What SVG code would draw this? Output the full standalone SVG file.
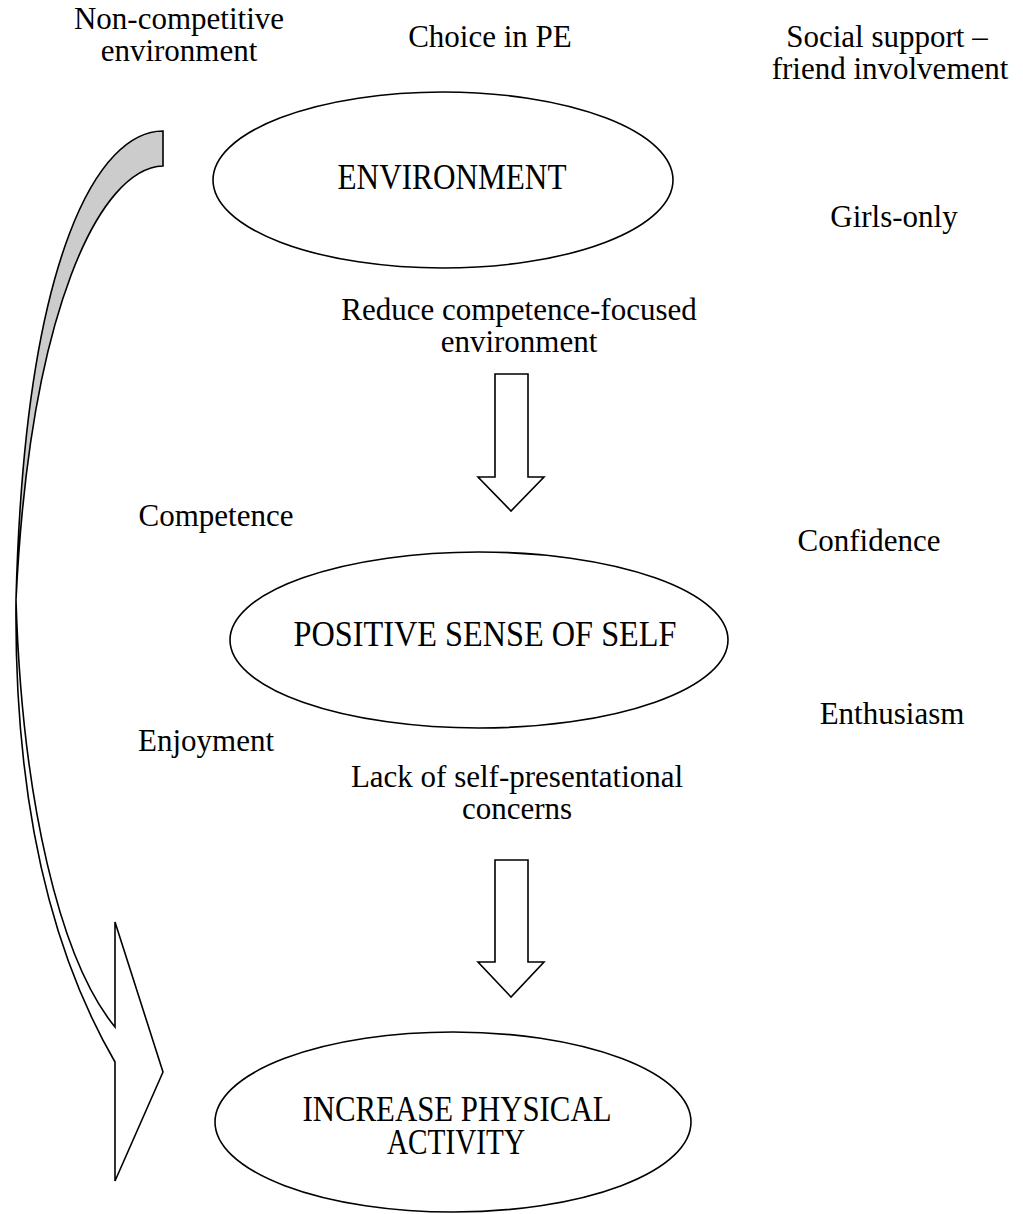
<svg xmlns="http://www.w3.org/2000/svg" width="1023" height="1214" viewBox="0 0 1023 1214">
<style>
.t{font-family:"Liberation Serif","Times New Roman",serif;font-size:31px;fill:#000;text-anchor:middle}
.h{font-family:"Liberation Serif","Times New Roman",serif;font-size:36px;fill:#000;text-anchor:middle}
.n{fill:#fff;stroke:#000;stroke-width:1.6}
.a{fill:#fff;stroke:#000;stroke-width:1.6;stroke-linejoin:miter}
</style>
<rect width="1023" height="1214" fill="#fff"/>
<g id="connectors">
<path id="curved-back" d="M163,131 C100,131 25,250 16,600 C30,310 100,168 163,166 Z" fill="#cccccc" stroke="#000" stroke-width="1.6"/>
<path id="curved-front" class="a" d="M16,600 C14,800 50,950 115,1062 L115,1181 L163,1072 L115,922 L115,1027 C60,960 22,800 16,600 Z"/>
<path id="arrow1" class="a" d="M495,374 L528,374 L528,477 L544,477 L511,511 L478,477 L495,477 Z"/>
<path id="arrow2" class="a" d="M495,860 L528,860 L528,962 L544,962 L511,997 L478,962 L495,962 Z"/>
</g>
<g id="node-environment">
<ellipse class="n" cx="443" cy="180" rx="230" ry="88"/>
<text class="h" x="452" y="189" textLength="229" lengthAdjust="spacingAndGlyphs">ENVIRONMENT</text>
</g>
<g id="node-self">
<ellipse class="n" cx="479" cy="640" rx="249" ry="88"/>
<text class="h" x="485" y="646" textLength="383" lengthAdjust="spacingAndGlyphs">POSITIVE SENSE OF SELF</text>
</g>
<g id="node-activity">
<ellipse class="n" cx="453" cy="1122" rx="238" ry="90"/>
<text class="h" x="457" y="1121" textLength="309" lengthAdjust="spacingAndGlyphs">INCREASE PHYSICAL</text>
<text class="h" x="456" y="1154" textLength="138" lengthAdjust="spacingAndGlyphs">ACTIVITY</text>
</g>
<g id="labels">
<text class="t" x="179" y="29">Non-competitive</text>
<text class="t" x="179" y="61">environment</text>
<text class="t" x="490" y="47">Choice in PE</text>
<text class="t" x="887" y="47">Social support –</text>
<text class="t" x="890" y="79">friend involvement</text>
<text class="t" x="894" y="227">Girls-only</text>
<text class="t" x="519" y="320">Reduce competence-focused</text>
<text class="t" x="519" y="352">environment</text>
<text class="t" x="216" y="526">Competence</text>
<text class="t" x="869" y="551">Confidence</text>
<text class="t" x="892" y="724">Enthusiasm</text>
<text class="t" x="206" y="751">Enjoyment</text>
<text class="t" x="517" y="787">Lack of self-presentational</text>
<text class="t" x="517" y="819">concerns</text>
</g>
</svg>
